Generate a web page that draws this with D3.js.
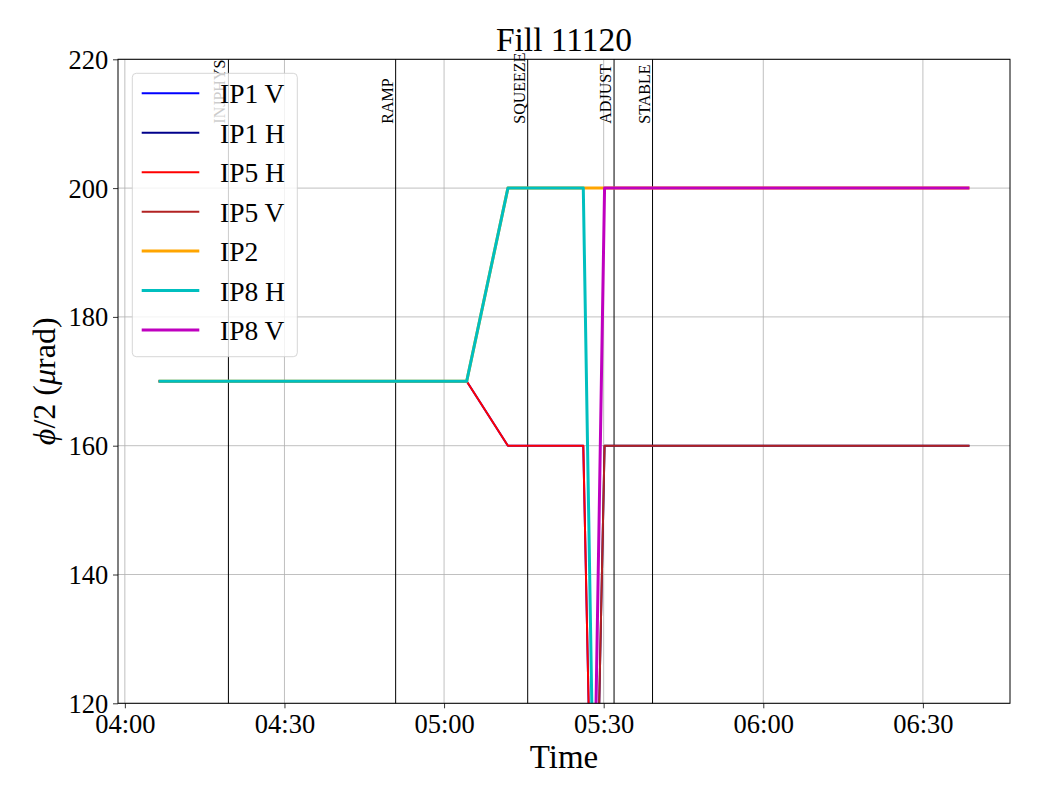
<!DOCTYPE html>
<html>
<head>
<meta charset="utf-8">
<script src="https://cdn.jsdelivr.net/npm/d3@7"></script>
<style>
  html, body { margin: 0; padding: 0; background: #ffffff; }
  svg { display: block; }
  text { font-family: "Liberation Serif", "Times New Roman", serif; fill: #000; }
</style>
</head>
<body>
<svg id="chart" width="1040" height="800"></svg>
<script>
// ---------------- data ----------------
const chartTitle = "Fill 11120";
const sampleTimes = ["04:06:20", "05:04:15", "05:12:00", "05:26:10", "05:30:10", "06:38:45"];
const seriesNames = ["IP1 V", "IP1 H", "IP5 H", "IP5 V", "IP2", "IP8 H", "IP8 V"];
const ip1V = [170, 170, 160, 160, 0, 0];
const ip1H = [0, 0, 0, 0, 160, 160];
const ip5H = [170, 170, 160, 160, 0, 0];
const ip5V = [0, 0, 0, 0, 160, 160];
const ip2  = [170, 170, 200, 200, 200, 200];
const ip8H = [170, 170, 200, 200, 0, 0];
const ip8V = [0, 0, 0, 0, 200, 200];
const phaseNames = ["INJPHYS", "RAMP", "SQUEEZE", "ADJUST", "STABLE"];
const phaseTimes = ["04:19:28", "04:50:54", "05:15:43", "05:31:57", "05:39:11"];
const yTicks = [120, 140, 160, 180, 200, 220];
const xTickTimes = ["04:00:00", "04:30:00", "05:00:00", "05:30:00", "06:00:00", "06:30:00"];

// ---------------- styles ----------------
const seriesValues = [ip1V, ip1H, ip5H, ip5V, ip2, ip8H, ip8V];
const seriesColors = ["#0000ff", "#00008b", "#ff0000", "#b22222", "#ffa500", "#00bfbf", "#bf00bf"];
const seriesWidths = [2, 2, 2, 2, 3, 3, 3];

const W = 1040, H = 800;
const margin = { left: 118, right: 30, top: 59.3, bottom: 96.7 };
const iw = W - margin.left - margin.right;
const ih = H - margin.top - margin.bottom;

const parseT = d3.utcParse("%H:%M:%S");
const times = sampleTimes.map(parseT);
const t0 = times[0], t1 = times[times.length - 1];
const span = t1 - t0;

const x = d3.scaleUtc()
  .domain([new Date(+t0 - 0.05 * span), new Date(+t1 + 0.05 * span)])
  .range([0, iw]);
const y = d3.scaleLinear().domain([120, 220]).range([ih, 0]);

const svg = d3.select("#chart");
const g = svg.append("g").attr("transform", `translate(${margin.left},${margin.top})`);

svg.append("defs").append("clipPath").attr("id", "clip")
  .append("rect").attr("x", 0).attr("y", 0).attr("width", iw).attr("height", ih);

// grid
const xt = xTickTimes.map(parseT);
g.append("g").selectAll("line.gx").data(xt).join("line")
  .attr("x1", d => x(d)).attr("x2", d => x(d)).attr("y1", 0).attr("y2", ih)
  .attr("stroke", "#b0b0b0").attr("stroke-width", 0.8);
g.append("g").selectAll("line.gy").data(yTicks).join("line")
  .attr("x1", 0).attr("x2", iw).attr("y1", d => y(d)).attr("y2", d => y(d))
  .attr("stroke", "#b0b0b0").attr("stroke-width", 0.8);

// phase lines
const pt = phaseTimes.map(parseT);
g.append("g").selectAll("line").data(pt).join("line")
  .attr("x1", d => x(d)).attr("x2", d => x(d)).attr("y1", 0).attr("y2", ih)
  .attr("stroke", "#000").attr("stroke-width", 1);

// data lines
const lineGen = d3.line().x(d => x(d[0])).y(d => y(d[1]));
const lg = g.append("g").attr("clip-path", "url(#clip)");
seriesValues.forEach((vals, i) => {
  lg.append("path")
    .datum(times.map((t, k) => [t, vals[k]]))
    .attr("d", lineGen)
    .attr("fill", "none")
    .attr("stroke", seriesColors[i])
    .attr("stroke-width", seriesWidths[i])
    .attr("stroke-linejoin", "round");
});

// phase labels
phaseNames.forEach((name, i) => {
  g.append("text")
    .attr("transform", `translate(${x(pt[i]) - 3},${y(210)}) rotate(-90)`)
    .attr("text-anchor", "start")
    .attr("font-size", 16)
    .text(name);
});

// axes
const xAxis = d3.axisBottom(x).tickValues(xt).tickFormat(d3.utcFormat("%H:%M")).tickSize(5).tickPadding(5);
const gx = g.append("g").attr("transform", `translate(0,${ih})`).call(xAxis);
gx.select(".domain").remove();
gx.selectAll("text").attr("font-size", 26.5).attr("font-family", "Liberation Serif").attr("dy", null).attr("y", 29.5);
gx.selectAll("line").attr("stroke", "#000").attr("stroke-width", 0.8);

const yAxis = d3.axisLeft(y).tickValues(yTicks).tickSize(5).tickPadding(5);
const gy = g.append("g").call(yAxis);
gy.select(".domain").remove();
gy.selectAll("text").attr("font-size", 26.5).attr("font-family", "Liberation Serif").attr("dy", null).attr("y", 9).attr("x", -9.7);
gy.selectAll("line").attr("stroke", "#000").attr("stroke-width", 0.8);

// spines
g.append("rect").attr("x", 0).attr("y", 0).attr("width", iw).attr("height", ih)
  .attr("fill", "none").attr("stroke", "#000").attr("stroke-width", 1);

// title & labels
svg.append("text").attr("x", margin.left + iw / 2).attr("y", 51)
  .attr("text-anchor", "middle").attr("font-size", 33.5).text(chartTitle);
svg.append("text").attr("x", margin.left + iw / 2).attr("y", 768)
  .attr("text-anchor", "middle").attr("font-size", 33).text("Time");
const yl = svg.append("text")
  .attr("transform", `translate(55,${margin.top + ih / 2}) rotate(-90)`)
  .attr("text-anchor", "middle").attr("font-size", 32);
yl.append("tspan").attr("font-style", "italic").text("\u03d5");
yl.append("tspan").text("/2 (");
yl.append("tspan").attr("font-style", "italic").text("\u03bc");
yl.append("tspan").text("rad)");

// legend
const leg = svg.append("g");
leg.append("rect").attr("x", 132.3).attr("y", 73.3).attr("width", 165).attr("height", 283.4)
  .attr("rx", 4).attr("ry", 4)
  .attr("fill", "#ffffff").attr("fill-opacity", 0.8)
  .attr("stroke", "#cccccc").attr("stroke-opacity", 0.8).attr("stroke-width", 1);
seriesNames.forEach((name, i) => {
  const ly = 93.3 + i * 39.45;
  leg.append("line").attr("x1", 141.7).attr("x2", 199.3).attr("y1", ly).attr("y2", ly)
    .attr("stroke", seriesColors[i]).attr("stroke-width", seriesWidths[i]);
  leg.append("text").attr("x", 220).attr("y", ly + 10).attr("font-size", 27.5).text(name);
});
</script>
</body>
</html>
